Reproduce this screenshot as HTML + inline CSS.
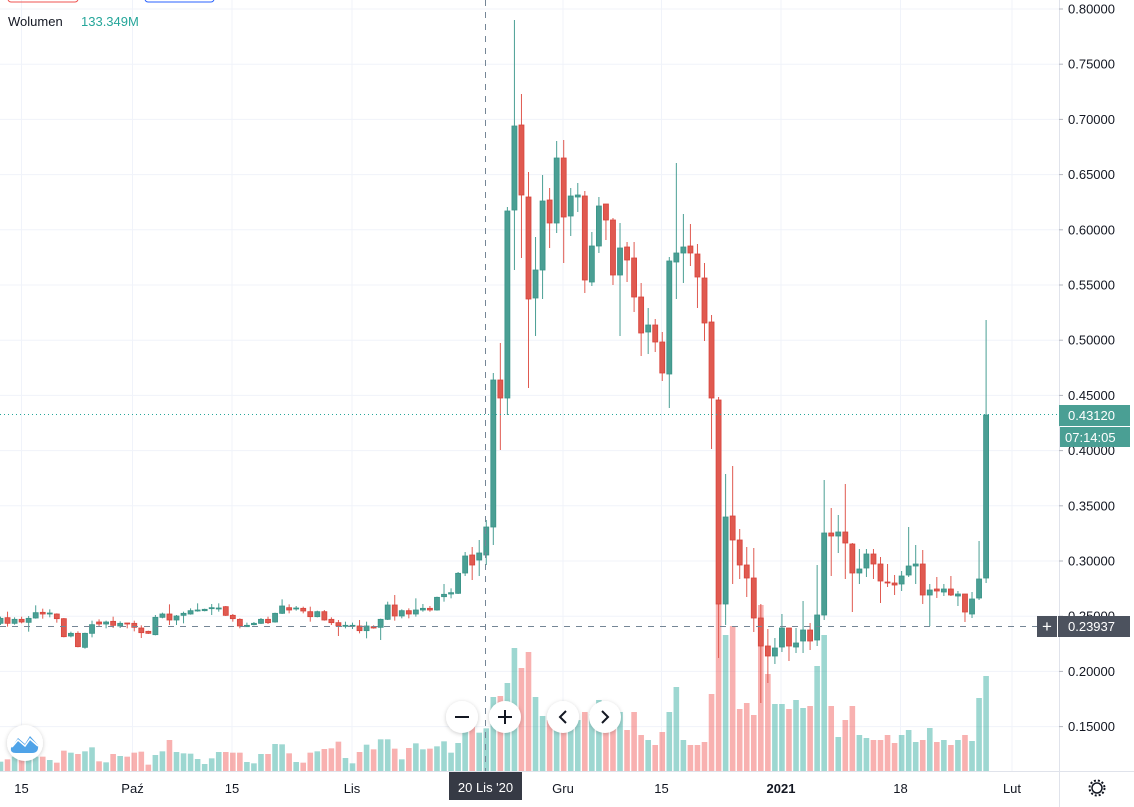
<!DOCTYPE html>
<html><head><meta charset="utf-8"><style>
html,body{margin:0;padding:0;background:#fff;width:1134px;height:807px;overflow:hidden}
svg{display:block;font-family:"Liberation Sans","DejaVu Sans",sans-serif}
</style></head><body>
<svg id="s" width="1134" height="807" viewBox="0 0 1134 807" xmlns="http://www.w3.org/2000/svg"></svg>
<script>
const G='#26a69a',R='#ef5350',GF='#4a9f94',RF='#e05a50',GS='#3a9488',RS='#d8443c';
const A=[[175,190,170,195,'g'],[173,190,155,200,'r'],[178,190,172,194,'g'],[178,186,170,190,'r'],[175,187,168,215,'g'],[158,174,136,176,'g'],[157,162,146,176,'r'],[159,161,148,172,'g'],[162,176,160,188,'r'],[176,230,174,232,'r'],[220,228,215,232,'g'],[220,260,214,262,'r'],[220,262,218,266,'g'],[194,220,182,232,'g'],[186,192,178,200,'r'],[186,192,182,205,'g'],[184,196,170,204,'r'],[190,198,184,204,'g'],[189,191,189,205,'r'],[190,202,182,214,'r'],[204,218,196,234,'r'],[214,220,212,222,'r'],[172,224,165,226,'g'],[162,172,158,175,'g'],[162,180,133,195,'r'],[168,180,165,195,'g'],[160,166,155,190,'g'],[152,162,145,164,'g'],[150,153,130,155,'g'],[148,152,146,154,'g'],[143,146,132,165,'g'],[144,146,130,155,'g'],[140,166,138,168,'r'],[166,176,162,185,'r'],[178,198,175,205,'r'],[196,200,188,201,'g'],[190,194,186,196,'g'],[178,190,174,192,'g'],[178,188,170,192,'r'],[160,186,158,188,'g'],[138,160,118,162,'g'],[143,150,133,160,'r'],[144,146,138,152,'g'],[145,153,140,160,'r'],[155,170,140,185,'r'],[155,170,152,172,'g'],[155,180,150,182,'r'],[178,188,172,195,'r'],[188,198,180,228,'r'],[196,198,185,205,'g'],[196,198,188,207,'g'],[198,212,180,220,'r'],[198,212,185,235,'g'],[200,204,196,206,'r'],[178,202,176,240,'g'],[135,178,125,180,'g'],[135,168,105,182,'r'],[152,168,148,175,'g'],[152,162,145,175,'r'],[150,162,115,170,'g'],[145,150,132,155,'g'],[145,150,138,155,'r'],[112,150,110,152,'g'],[103,110,72,125,'g'],[98,102,85,115,'g'],[40,100,36,102,'g']];
let C=A.map(a=>[560+a[0]/3,560+a[1]/3,560+a[2]/3,560+a[3]/3,a[4]]);
C.push([556,573,552,576,'g'],[555,565,547,580,'r'],[553,560,540,576,'g'],[527,555,520,565,'g'],
[380,527,373,545,'g'],[380,398,343,450,'r'],[211,398,207,415,'g'],[126,210,20,270,'g'],[125,195,94,258,'r'],[197,299,172,388,'r'],[270,298,237,336,'g'],[201,270,175,299,'g'],[200,223,188,248,'r'],[158,223,141,233,'g'],[158,217,140,263,'r'],[196,216,188,236,'g'],[195,197,183,212,'g'],[196,280,191,293,'r'],[246,282,232,286,'g'],[206,246,197,253,'g'],[204,220,204,240,'r'],[220,275,218,285,'r'],[248,275,223,336,'g'],[247,260,242,282,'r'],[258,297,242,312,'r'],[297,333,283,356,'r'],[325,332,308,354,'g'],[325,342,319,352,'r'],[342,373,332,381,'r'],[261,374,257,408,'g'],[253,262,163,299,'g'],[247,253,214,283,'g'],[246,253,224,266,'r'],[254,277,244,308,'r'],[278,323,263,341,'r'],[322,398,315,449,'r'],
[400,604,397,658,'r'],[517,604,474,625,'g'],[516,540,466,584,'r'],[540,565,529,579,'r'],[565,578,547,597,'r'],[578,618,548,632,'r'],[618,646,604,703,'r'],[646,656,629,683,'r'],[648,656,638,664,'g'],[628,647,614,652,'g'],[628,646,628,661,'r'],[643,647,628,653,'g'],[630,641,601,653,'g'],[630,641,623,650,'r'],[615,640,565,646,'g'],[533,615,480,620,'g'],[533,536,508,576,'r'],[532,536,515,553,'g'],[532,543,484,579,'r'],[544,573,543,612,'r'],[569,573,549,584,'g'],[554,568,549,577,'g'],[554,564,549,579,'r'],[564,581,557,603,'r'],[582,583,564,587,'r'],[583,585,575,595,'r'],[576,584,571,591,'g'],[566,575,527,577,'g'],[564,566,545,584,'g'],[564,595,550,604,'r'],[590,595,584,626,'g'],[589,591,577,598,'r'],[589,592,584,596,'g'],[589,595,576,596,'r'],[594,596,591,606,'g'],[594,612,594,622,'r'],[599,614,592,618,'g'],[579,598,541,600,'g'],[415,578,320,583,'g']);
const V1=[605,598,590,590,585,590,590,600,608,572,578,582,574,562,604,607,582,588,590,578,575,614,585,574,540,576,580,581,597,612,595,576,576,578,578,606,610,582,582,552,553,580,606,608,578,574,567,565,545,594,610,576,554,568,538,538,566,598,564,550,568,566,559,544,578,549,470,500,518,505].map(v=>560+v/3);
const V=V1.concat([697,696,683,648,668,652,697,716,720,705,705,725,720,712,714,700,707,710,712,730,712,735,740,745,732,712,687,740,745,745,742,694,604,635,626,709,703,715,605,674,704,704,709,700,708,706,666,635,706,737,720,706,735,738,740,740,735,743,735,730,742,740,728,742,740,745,740,735,741,698,676]);
let o='';
const X=i=>0.5+7.04*i;
for(let k=0;k<=13;k++){const y=9+k*55.2;o+=`<line x1="0" x2="1059" y1="${y}" y2="${y}" stroke="#f0f3fa" stroke-width="1"/>`}
[21.5,132.5,232,352,563,661.5,781,900.5,1012].forEach(x=>o+=`<line x1="${x}" x2="${x}" y1="0" y2="771" stroke="#f0f3fa" stroke-width="1"/>`);
V.forEach((v,i)=>{const c=C[i][4]=='g'?'rgba(38,166,154,0.45)':'rgba(239,83,80,0.45)';o+=`<rect x="${X(i)-2.8}" y="${v}" width="5.6" height="${771-v}" fill="${c}"/>`});
C.forEach((c,i)=>{const x=X(i),g=c[4]=='g',col=g?GF:RF,st=g?GS:RS;o+=`<line x1="${x}" x2="${x}" y1="${c[2]}" y2="${c[3]}" stroke="${col}" stroke-width="1"/><rect x="${x-2.5}" y="${c[0]}" width="5" height="${Math.max(1,c[1]-c[0])}" fill="${col}" stroke="${st}" stroke-width="0.8"/>`});
o+=`<line x1="0" x2="1059" y1="414.5" y2="414.5" stroke="${G}" stroke-dasharray="1,3"/>`;
o+=`<line x1="0" x2="1037" y1="626.5" y2="626.5" stroke="#758696" stroke-dasharray="6,6"/>`;
o+=`<line x1="485.5" x2="485.5" y1="0" y2="771" stroke="#758696" stroke-dasharray="6,6"/>`;
o+=`<rect x="1059" y="0" width="75" height="807" fill="#fff"/><line x1="1059.5" x2="1059.5" y1="0" y2="807" stroke="#e0e3eb"/>`;
o+=`<rect x="0" y="771" width="1059" height="36" fill="#fff"/><line x1="0" x2="1134" y1="771.5" y2="771.5" stroke="#e0e3eb"/>`;
for(let k=0;k<=13;k++){const p=(0.8-k*0.05).toFixed(5),y=9+k*55.2;o+=`<line x1="1059" x2="1063" y1="${y}" y2="${y}" stroke="#b2b5be"/><text x="1068" y="${y+4.5}" font-size="13" fill="#131722">${p}</text>`}
[[21.5,'15'],[132.5,'Paź'],[232,'15'],[352,'Lis'],[563,'Gru'],[661.5,'15'],[781,'2021'],[900.5,'18'],[1012,'Lut']].forEach(([x,t])=>o+=`<text x="${x}" y="793" font-size="13" text-anchor="middle" fill="#131722"${t=='2021'?' font-weight="bold"':''}>${t}</text>`);
o+=`<rect x="449" y="772" width="73" height="28" fill="#363a45"/><text x="485.5" y="792" font-size="13" text-anchor="middle" fill="#fff">20 Lis '20</text>`;
o+=`<rect x="1059" y="405" width="71" height="21" fill="${GF}"/><text x="1068" y="420" font-size="13" fill="#fff">0.43120</text>`;
o+=`<rect x="1060" y="427" width="70" height="20" fill="${GF}"/><text x="1065" y="442" font-size="13" fill="#fff">07:14:05</text>`;
o+=`<rect x="1058" y="616" width="72" height="21" fill="#4c525e"/><text x="1068" y="631" font-size="13" fill="#fff">0.23937</text>`;
o+=`<rect x="1037" y="616" width="20" height="21" fill="#4c525e"/><text x="1047" y="632" font-size="17" text-anchor="middle" fill="#fff">+</text>`;
o+=`<circle cx="1097" cy="788" r="5" fill="none" stroke="#131722" stroke-width="1.5"/><circle cx="1097" cy="788" r="7.5" fill="none" stroke="#131722" stroke-width="2" stroke-dasharray="2,2"/>`;
o+=`<rect x="8" y="-6" width="70" height="8" rx="3" fill="none" stroke="#ef5350"/><rect x="145" y="-6" width="69" height="8" rx="3" fill="none" stroke="#2962ff"/>`;
o+=`<text x="8" y="26" font-size="13" fill="#131722">Wolumen</text><text x="81" y="26" font-size="13" fill="${G}">133.349M</text>`;
o+=`<defs><filter id="sh" x="-50%" y="-50%" width="200%" height="200%"><feDropShadow dx="0" dy="1" stdDeviation="2" flood-color="#000" flood-opacity="0.2"/></filter></defs>`;
[[462,'m'],[505,'p'],[563,'l'],[605,'r']].forEach(([x,t])=>{o+=`<circle cx="${x}" cy="717" r="16" fill="#fff" filter="url(#sh)"/>`;
if(t=='m')o+=`<line x1="455" x2="469" y1="717" y2="717" stroke="#131722" stroke-width="2"/>`;
if(t=='p')o+=`<line x1="498" x2="512" y1="717" y2="717" stroke="#131722" stroke-width="2"/><line x1="505" x2="505" y1="710" y2="724" stroke="#131722" stroke-width="2"/>`;
if(t=='l')o+=`<polyline points="566,711 560,717 566,723" fill="none" stroke="#131722" stroke-width="2"/>`;
if(t=='r')o+=`<polyline points="602,711 608,717 602,723" fill="none" stroke="#131722" stroke-width="2"/>`;});
o+=`<circle cx="25" cy="743" r="18" fill="#fff" filter="url(#sh)"/><path d="M11 748 L18 738 L25 744 L30 736 L38 745 Q39 753 32 753 L16 753 Q10 753 11 748Z" fill="#4fa3e8"/><polyline points="12,747 18,740 25,746 30,739 38,746" fill="none" stroke="#fff" stroke-width="1.5"/>`;
document.getElementById('s').innerHTML=o;
</script>
</body></html>
